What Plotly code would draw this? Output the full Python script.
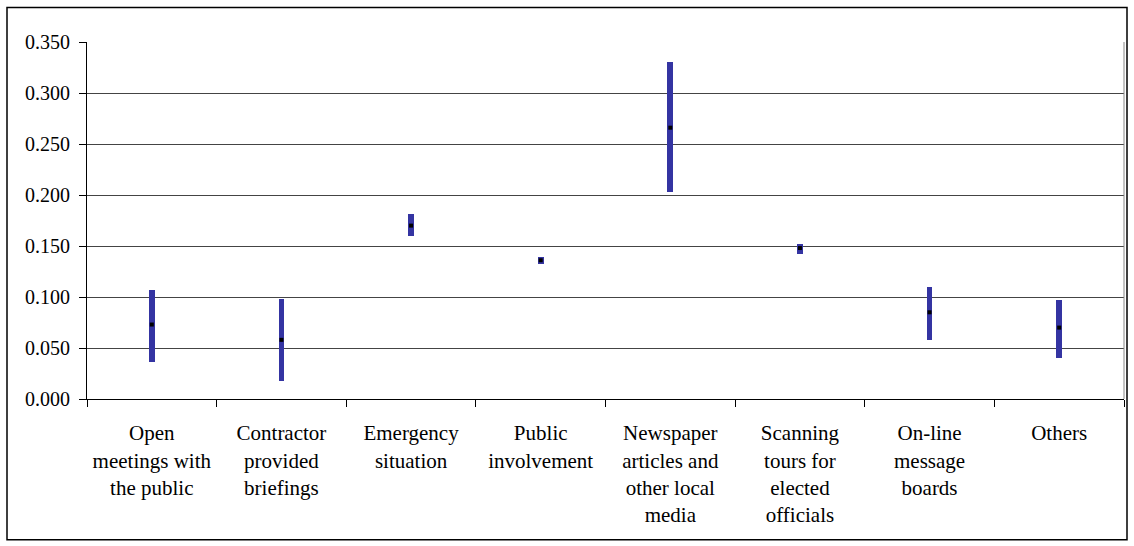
import plotly.graph_objects as go

categories = [
    "Open<br>meetings with<br>the public",
    "Contractor<br>provided<br>briefings",
    "Emergency<br>situation",
    "Public<br>involvement",
    "Newspaper<br>articles and<br>other local<br>media",
    "Scanning<br>tours for<br>elected<br>officials",
    "On-line<br>message<br>boards",
    "Others",
]
high_values = [0.107, 0.098, 0.181, 0.139, 0.330, 0.152, 0.110, 0.097]
low_values = [0.036, 0.018, 0.160, 0.132, 0.203, 0.142, 0.058, 0.040]
mid_values = [0.073, 0.058, 0.170, 0.136, 0.266, 0.148, 0.085, 0.070]
y_ticks = [0.0, 0.05, 0.10, 0.15, 0.20, 0.25, 0.30, 0.35]

FONT = "Liberation Serif"

fig = go.Figure()

# high-low range bars
fig.add_trace(go.Bar(
    x=categories,
    y=[h - l for h, l in zip(high_values, low_values)],
    base=low_values,
    width=0.045,
    marker=dict(color="#3434A2", line=dict(width=0)),
    hoverinfo="skip",
    showlegend=False,
))

# mid-point markers
fig.add_trace(go.Scatter(
    x=categories,
    y=mid_values,
    mode="markers",
    marker=dict(symbol="square", size=4, color="black", line=dict(width=0)),
    showlegend=False,
))

W, H = 1134, 546
L, R, T, B = 87, 10, 41.5, 147
pw = W - L - R
ph = H - T - B

def px_x(px):
    return (px - L) / pw

def px_y(py):
    return (H - B - py) / ph

fig.update_layout(
    width=W,
    height=H,
    margin=dict(l=L, r=R, t=T, b=B, pad=0),
    paper_bgcolor="white",
    plot_bgcolor="white",
    font=dict(family=FONT, size=21, color="black"),
    bargap=0,
    xaxis=dict(
        type="category",
        showgrid=False,
        showline=True,
        linecolor="black",
        linewidth=1,
        ticks="outside",
        tickson="boundaries",
        ticklen=7,
        tickcolor="black",
        tickfont=dict(family=FONT, size=21),
        ticklabelstandoff=15,
        mirror=False,
    ),
    yaxis=dict(
        range=[0, 0.35],
        tickvals=y_ticks,
        tickformat=".3f",
        showgrid=True,
        gridcolor="#444444",
        gridwidth=1,
        showline=True,
        linecolor="black",
        linewidth=1,
        ticks="outside",
        ticklen=7,
        tickcolor="black",
        tickfont=dict(family=FONT, size=20),
        ticklabelstandoff=5,
        zeroline=False,
    ),
    shapes=[
        dict(
            type="rect",
            xref="paper", yref="paper",
            x0=px_x(7), x1=px_x(1127),
            y0=px_y(540), y1=px_y(7),
            line=dict(color="black", width=1.5),
            fillcolor="rgba(0,0,0,0)",
            layer="below",
        ),
        dict(
            type="line",
            xref="paper", yref="paper",
            x0=1, x1=1, y0=0, y1=1,
            line=dict(color="#888888", width=1),
        ),
    ],
)

fig.write_html("out.html")
